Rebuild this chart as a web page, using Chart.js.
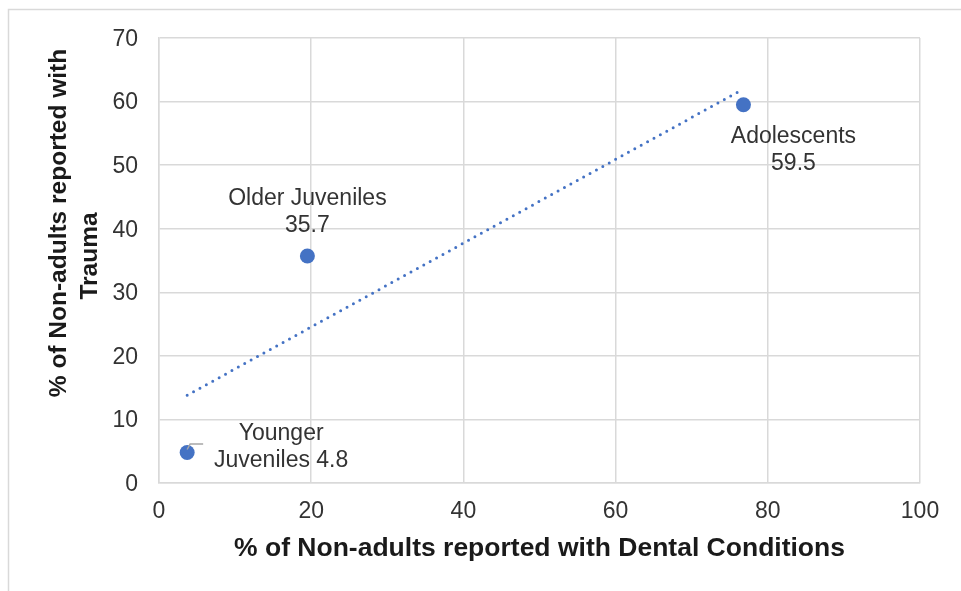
<!DOCTYPE html>
<html>
<head>
<meta charset="utf-8">
<script src="https://cdn.jsdelivr.net/npm/chart.js@4.4.1/dist/chart.umd.min.js"></script>
<style>
  html, body { margin: 0; padding: 0; background: #ffffff; }
  canvas { display: block; }
</style>
</head>
<body>
<canvas id="chart" width="961" height="591"></canvas>
<script>
// Age groups and their prevalence (%)
const groups = ['Younger Juveniles', 'Older Juveniles', 'Adolescents'];
const dentalPct = [3.7, 19.5, 76.8];
const traumaPct = [4.8, 35.7, 59.5];

// Axis ticks
const xTicks = [0, 20, 40, 60, 80, 100];
const yTicks = [0, 10, 20, 30, 40, 50, 60, 70];

// Axis titles
const xTitle = '% of Non-adults reported with Dental Conditions';
const yTitle = ['% of Non-adults reported with', 'Trauma'];

// Ordinary least-squares line through the points (linear trendline)
function leastSquares(xs, ys) {
  const n = xs.length;
  const mx = xs.reduce((a, b) => a + b, 0) / n;
  const my = ys.reduce((a, b) => a + b, 0) / n;
  let sxy = 0, sxx = 0;
  for (let i = 0; i < n; i++) {
    sxy += (xs[i] - mx) * (ys[i] - my);
    sxx += (xs[i] - mx) * (xs[i] - mx);
  }
  const slope = sxy / sxx;
  return { slope, intercept: my - slope * mx };
}
const fit = leastSquares(dentalPct, traumaPct);
const xLo = Math.min(...dentalPct), xHi = Math.max(...dentalPct);
const trendPoints = [xLo, xHi].map(x => ({ x, y: fit.intercept + fit.slope * x }));

const BLUE = '#4472C4';
const GRID = '#d9d9d9';
const TEXT = '#333333';
const FONT = "'Liberation Sans', Arial, sans-serif";

// Data label placement relative to each point (dx, dy of first line's centre)
const labelPlacement = [
  { dx: 94, dy: -21, leader: true },
  { dx: 0, dy: -59 },
  { dx: 50, dy: 30.5 }
];
const LABEL_SIZE = 23;
const LABEL_LINE = 27;
const LABEL_WRAP = 175;

function wrapWords(ctx, text, maxWidth) {
  const words = text.split(' ');
  const lines = [];
  let cur = '';
  for (const w of words) {
    const test = cur ? cur + ' ' + w : w;
    if (cur && ctx.measureText(test).width > maxWidth) {
      lines.push(cur);
      cur = w;
    } else {
      cur = test;
    }
  }
  if (cur) lines.push(cur);
  return lines;
}

const framePlugin = {
  id: 'frame',
  beforeDraw(chart) {
    const ctx = chart.ctx;
    ctx.save();
    ctx.fillStyle = '#ffffff';
    ctx.fillRect(0, 0, chart.width, chart.height);
    ctx.strokeStyle = GRID;
    ctx.lineWidth = 1.5;
    ctx.strokeRect(8.5, 9.5, chart.width + 10, chart.height + 10);
    ctx.restore();
  }
};

const yTitlePlugin = {
  id: 'yTitle',
  afterDraw(chart) {
    const ctx = chart.ctx;
    ctx.save();
    ctx.font = 'bold 24.5px ' + FONT;
    ctx.fillStyle = '#1a1a1a';
    ctx.textAlign = 'center';
    ctx.textBaseline = 'alphabetic';
    const spots = [{ x: 66, y: 223 }, { x: 97, y: 256 }];
    yTitle.forEach((line, i) => {
      ctx.save();
      ctx.translate(spots[i].x, spots[i].y);
      ctx.rotate(-Math.PI / 2);
      ctx.fillText(line, 0, 0);
      ctx.restore();
    });
    ctx.restore();
  }
};

const pointLabelPlugin = {
  id: 'pointLabels',
  afterDatasetsDraw(chart) {
    const ctx = chart.ctx;
    const meta = chart.getDatasetMeta(0);
    ctx.save();
    ctx.font = LABEL_SIZE + 'px ' + FONT;
    ctx.fillStyle = TEXT;
    ctx.textAlign = 'center';
    ctx.textBaseline = 'alphabetic';
    const capHalf = LABEL_SIZE * 0.716 / 2;
    meta.data.forEach((pt, i) => {
      const place = labelPlacement[i];
      const text = groups[i] + ' ' + traumaPct[i].toFixed(1);
      const lines = wrapWords(ctx, text, LABEL_WRAP);
      const cx = pt.x + place.dx;
      lines.forEach((line, k) => {
        ctx.fillText(line, cx, pt.y + place.dy + k * LABEL_LINE + capHalf);
      });
      if (place.leader) {
        ctx.save();
        ctx.strokeStyle = '#a6a6a6';
        ctx.lineWidth = 1.5;
        ctx.beginPath();
        ctx.moveTo(pt.x, pt.y - 3);
        ctx.lineTo(pt.x + 3, pt.y - 8.5);
        ctx.lineTo(pt.x + 16, pt.y - 8.5);
        ctx.stroke();
        ctx.restore();
      }
    });
    ctx.restore();
  }
};

new Chart(document.getElementById('chart'), {
  type: 'scatter',
  data: {
    datasets: [
      {
        label: 'Non-adults',
        data: dentalPct.map((x, i) => ({ x, y: traumaPct[i] })),
        backgroundColor: BLUE,
        borderColor: BLUE,
        borderWidth: 0,
        pointRadius: 7.5,
        order: 0
      },
      {
        type: 'line',
        label: 'Linear trend',
        data: trendPoints,
        borderColor: BLUE,
        borderWidth: 3,
        borderDash: [0, 7.3],
        borderCapStyle: 'round',
        pointRadius: 0,
        fill: false,
        tension: 0,
        order: 1
      }
    ]
  },
  options: {
    responsive: false,
    animation: false,
    devicePixelRatio: 1,
    layout: { padding: { left: 0, top: 38, right: 41, bottom: 0 } },
    plugins: {
      legend: { display: false },
      tooltip: { enabled: false }
    },
    scales: {
      x: {
        type: 'linear',
        min: xTicks[0],
        max: xTicks[xTicks.length - 1],
        afterBuildTicks(scale) { scale.ticks = xTicks.map(v => ({ value: v })); },
        afterFit(scale) { scale.height = 108; },
        grid: { color: GRID, lineWidth: 1.5, drawTicks: false },
        border: { color: GRID, width: 1.5 },
        ticks: { color: TEXT, padding: 15, font: { family: FONT, size: 23 } },
        title: {
          display: true,
          text: xTitle,
          color: '#1a1a1a',
          font: { family: FONT, size: 26.5, weight: 'bold' },
          padding: { top: 0, bottom: 26 }
        }
      },
      y: {
        type: 'linear',
        min: yTicks[0],
        max: yTicks[yTicks.length - 1],
        afterBuildTicks(scale) { scale.ticks = yTicks.map(v => ({ value: v })); },
        afterFit(scale) { scale.width = 159; },
        grid: { color: GRID, lineWidth: 1.5, drawTicks: false },
        border: { color: GRID, width: 1.5 },
        ticks: { color: TEXT, padding: 21, labelOffset: 1.5, font: { family: FONT, size: 23 } }
      }
    }
  },
  plugins: [framePlugin, yTitlePlugin, pointLabelPlugin]
});
</script>
</body>
</html>
